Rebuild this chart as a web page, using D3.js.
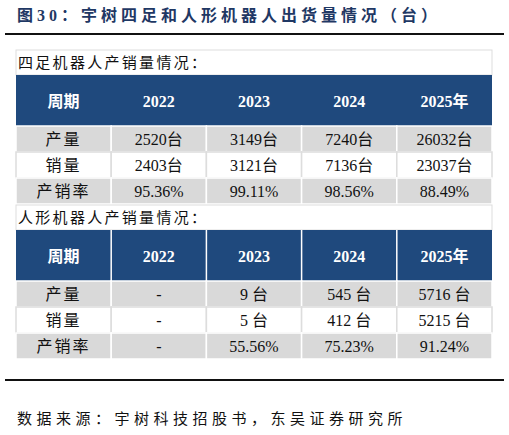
<!DOCTYPE html>
<html><head><meta charset="utf-8">
<script src="https://cdn.jsdelivr.net/npm/d3@7"></script>
<style>body{margin:0;background:#fff}</style>
</head><body><div id="chart"></div>
<script>
const title = '图30：宇树四足和人形机器人出货量情况（台）';
const source = '数据来源：宇树科技招股书，东吴证券研究所';
const headers = ['周期', '2022', '2023', '2024', '2025年'];
const rowLabels = ['产量', '销量', '产销率'];
const quadLabel = '四足机器人产销量情况：';
const quadOutput = ['2520台', '3149台', '7240台', '26032台'];
const quadSales = ['2403台', '3121台', '7136台', '23037台'];
const quadRate = ['95.36%', '99.11%', '98.56%', '88.49%'];
const humLabel = '人形机器人产销量情况：';
const humOutput = ['-', '9 台', '545 台', '5716 台'];
const humSales = ['-', '5 台', '412 台', '5215 台'];
const humRate = ['-', '55.56%', '75.23%', '91.24%'];

const width = 509, height = 435;
const font = '"Liberation Serif","Noto Sans CJK SC",serif';
const svg = d3.select('#chart').append('svg').attr('width', width).attr('height', height);

svg.append('text').attr('x', 17).attr('y', 21).attr('fill', '#1f3864')
    .attr('font-family', font).attr('font-weight', 'bold').attr('font-size', 16)
    .attr('letter-spacing', 4).text(title);
svg.append('line').attr('x1', 5).attr('x2', 504).attr('y1', 34).attr('y2', 34)
    .attr('stroke', '#111').attr('stroke-width', 2);
svg.append('line').attr('x1', 5).attr('x2', 504).attr('y1', 380).attr('y2', 380)
    .attr('stroke', '#111').attr('stroke-width', 2);
svg.append('text').attr('x', 17).attr('y', 424).attr('fill', '#111')
    .attr('font-family', font).attr('font-size', 15).attr('letter-spacing', 4.5).text(source);

const x = d3.scaleBand().domain(headers).range([16, 492]);

const section = (top, label, rows, headerLines) => {
    const g = svg.append('g');
    g.append('rect').attr('x', 16).attr('y', top).attr('width', 476).attr('height', 25)
        .attr('fill', '#fff').attr('stroke', '#ddd');
    g.append('text').attr('x', 18).attr('y', top + 18).attr('font-family', font)
        .attr('font-size', 15).attr('letter-spacing', 2.3).attr('fill', '#111').text(label);
    const hy = top + 25, hh = 51;
    g.append('rect').attr('x', 16).attr('y', hy).attr('width', 476).attr('height', hh).attr('fill', '#1f497d');
    if (headerLines) {
        headers.slice(1).forEach(h => g.append('line').attr('x1', x(h)).attr('x2', x(h))
            .attr('y1', hy).attr('y2', hy + hh).attr('stroke', '#fff').attr('stroke-width', 1.5));
    }
    headers.forEach(h => g.append('text').attr('x', x(h) + x.bandwidth() / 2).attr('y', hy + hh / 2 + 6)
        .attr('text-anchor', 'middle').attr('font-family', font).attr('font-weight', 'bold')
        .attr('font-size', 16).attr('fill', '#fff').text(h));
    const y = d3.scaleBand().domain(d3.range(rows.length)).range([hy + hh, hy + hh + 78]);
    rows.forEach((vals, i) => {
        const cells = [rowLabels[i]].concat(vals);
        cells.forEach((v, j) => {
            g.append('rect').attr('x', x(headers[j])).attr('y', y(i)).attr('width', x.bandwidth())
                .attr('height', y.bandwidth()).attr('fill', i % 2 ? '#fff' : '#d9d9d9')
                .attr('stroke', i % 2 ? '#ddd' : '#fff').attr('stroke-width', 1.5);
            g.append('text').attr('x', x(headers[j]) + x.bandwidth() / 2).attr('y', y(i) + y.bandwidth() / 2 + 6)
                .attr('text-anchor', 'middle').attr('font-family', font).attr('font-size', 16)
                .attr('letter-spacing', j === 0 ? 2 : 0).attr('fill', '#111').text(v);
        });
    });
};

section(50, quadLabel, [quadOutput, quadSales, quadRate], false);
section(205, humLabel, [humOutput, humSales, humRate], true);
</script></body></html>
